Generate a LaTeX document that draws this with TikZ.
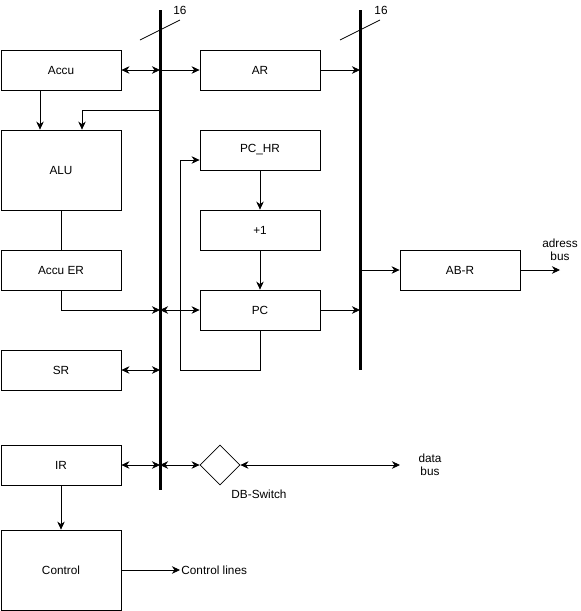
\documentclass[tikz,border=0pt]{standalone}
\usepackage{fontspec}
\setmainfont{Liberation Sans}
\usetikzlibrary{arrows.meta,shapes.geometric,positioning}

\tikzset{
  reg/.style={draw, minimum width=120pt, minimum height=40pt, inner sep=0pt},
  bigreg/.style={reg, minimum height=80pt},
  switchbox/.style={draw, diamond, aspect=1, minimum width=40pt, minimum height=40pt, inner sep=0pt},
  bus/.style={line width=3pt},
  tip/.tip={Stealth[length=8pt,width=7.5pt,inset=2.5pt]},
  link/.style={-tip},
  both/.style={tip-tip},
  lbl/.style={align=center}
}

\begin{document}
\begin{tikzpicture}[x=1pt,y=-1pt,line width=0.8pt,font=\fontsize{11.8}{13.5}\selectfont]
  \useasboundingbox (0,0) rectangle (581,611);

  % the two buses
  \coordinate (b1top) at (160,10);
  \coordinate (b1bot) at (160,490);
  \coordinate (b2top) at (360,10);
  \coordinate (b2bot) at (360,370);
  \draw[bus] (b1top) -- (b1bot);
  \draw[bus] (b2top) -- (b2bot);
  \draw (140,40) -- (180,20);
  \node (w1) at (180,10) {16};
  \draw (340,40) -- (380,20);
  \node (w2) at (381,10) {16};

  % left column
  \node[reg] (accu) at (61,70) {Accu};
  \node[bigreg] (alu) at (61,170) {ALU};
  \node[reg] (accuer) at (61,270) {Accu ER};
  \node[reg] (sr) at (61,370) {SR};
  \node[reg] (ir) at (61,465) {IR};
  \node[bigreg] (control) at (61,570) {Control};

  % middle column
  \node[reg] (ar) at (260,70) {AR};
  \node[reg] (pchr) at (260,150) {PC\_HR};
  \node[reg] (inc) at (260,230) {+1};
  \node[reg] (pc) at (260,310) {PC};
  \node[switchbox] (dbs) at (220,465) {};
  \node (dbslbl) at (259,494) {DB-Switch};

  % right side
  \node[reg] (abr) at (460,270) {AB-R};
  \coordinate (abus) at (560,270);
  \node[lbl] (abuslbl) at (560,250) {adress\\bus};
  \coordinate (dbus) at (400,465);
  \node[lbl] (dbuslbl) at (430,465) {data\\bus};
  \node[anchor=west, inner sep=1pt] (ctl) at (180,570) {Control lines};

  % connections
  \coordinate (alutap) at (160,110);
  \coordinate (loop) at (180,370);
  \draw[both] (accu.east) -- (accu -| b1top);
  \draw[link] (accu -| b1top) -- (ar.west);
  \draw[link] (ar.east) -- (ar -| b2top);
  \draw[link] ([xshift=-21pt]accu.south) -- ([xshift=-21pt]alu.north);
  \draw[link] (alutap) -| ([xshift=21pt]alu.north);
  \draw (alu) -- (accuer);
  \draw[link] (accuer.south) |- (pc -| b1top);
  \draw[both] (pc -| b1top) -- (pc.west);
  \draw[link] (pc.east) -- (pc -| b2top);
  \draw[link] (pc.south) |- (loop) |- ([yshift=-10pt]pchr.west);
  \draw[link] (pchr) -- (inc);
  \draw[link] (inc) -- (pc);
  \draw[both] (sr.east) -- (sr -| b1top);
  \draw[link] (abr -| b2top) -- (abr.west);
  \draw[link] (abr.east) -- (abus);
  \draw[both] (ir.east) -- (ir -| b1top);
  \draw[both] (ir -| b1top) -- (dbs.west);
  \draw[both] (dbs.east) -- (dbus);
  \draw[link] (ir) -- (control);
  \draw[link] (control) -- (ctl);
\end{tikzpicture}
\end{document}
